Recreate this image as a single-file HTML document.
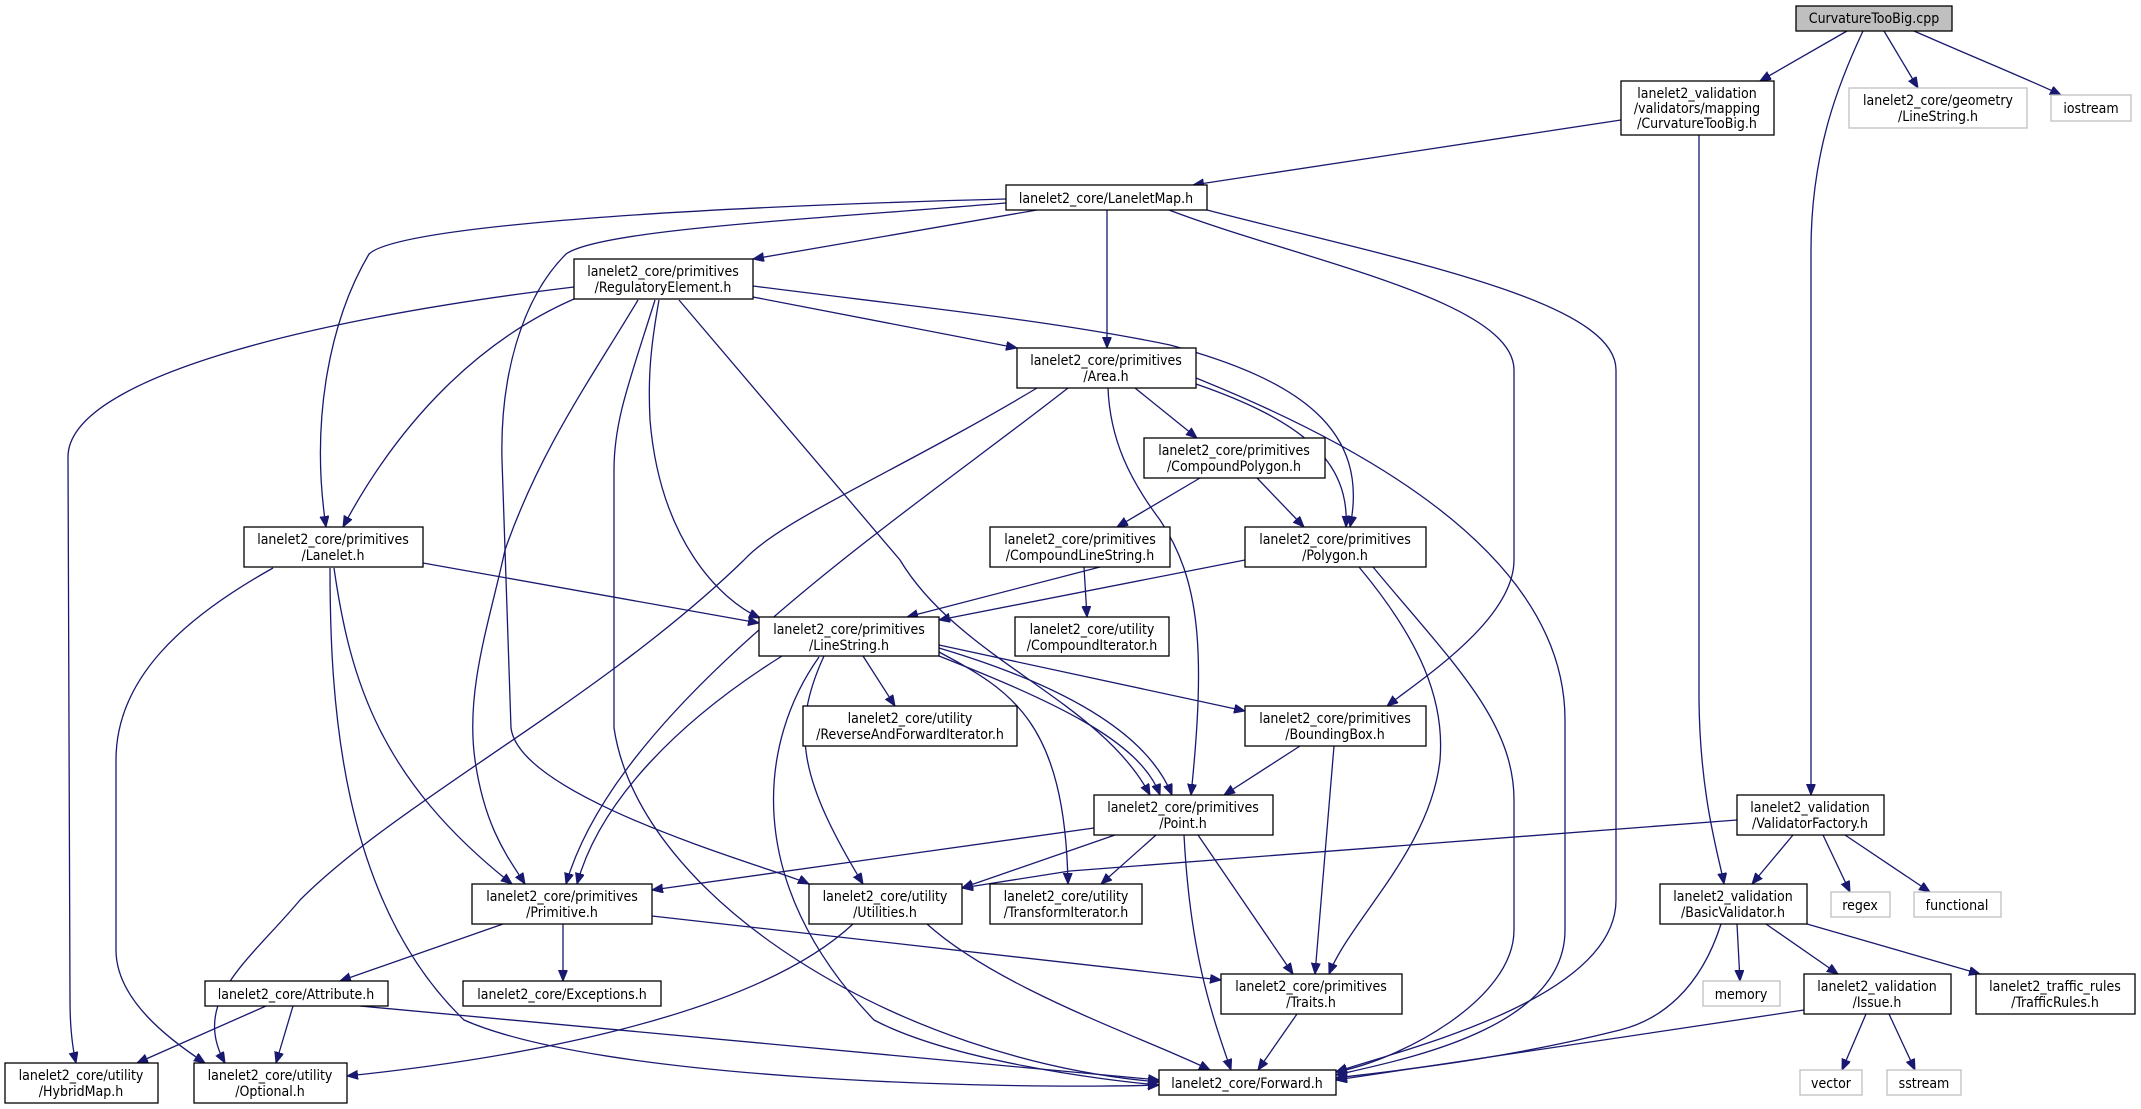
<!DOCTYPE html>
<html><head><meta charset="utf-8"><style>
html,body{margin:0;padding:0;background:#fff;}
svg{display:block;}
text{font-family:"DejaVu Sans Condensed","Liberation Sans Narrow","Liberation Sans",sans-serif;font-size:14px;fill:#000;text-anchor:middle;}
.e{fill:none;stroke:#191970;stroke-width:1.3;marker-end:url(#a);}
.n{fill:#fff;stroke:#000;stroke-width:1.3;}
.g{fill:#fff;stroke:#bfbfbf;stroke-width:1.3;}
</style></head><body>
<svg width="2141" height="1109" viewBox="0 0 2141 1109" xmlns="http://www.w3.org/2000/svg">
<defs><marker id="a" markerUnits="userSpaceOnUse" markerWidth="12" markerHeight="10" refX="11" refY="4.5" orient="auto"><path d="M0,0 L11,4.5 L0,9 z" fill="#191970" stroke="#191970"/></marker></defs>
<g>
<path class="e" d="M1847,31 L1760,81"/>
<path class="e" d="M1863,31 C1840,80 1811,150 1811,250 L1811,795"/>
<path class="e" d="M1884,31 L1918,88"/>
<path class="e" d="M1914,31 C1980,60 2030,80 2061,95"/>
<path class="e" d="M1621,120 L1193,185"/>
<path class="e" d="M1699,135 L1699,700 C1700,800 1720,860 1724,884"/>
<path class="e" d="M1006,199 C700,207 400,225 369,254 C330,320 310,420 326,527"/>
<path class="e" d="M1006,203 C800,220 600,230 566,254 C520,300 500,380 502,460 L511,728 C520,800 780,870 809,884"/>
<path class="e" d="M1037,210 L753,259"/>
<path class="e" d="M1107,210 L1107,348"/>
<path class="e" d="M1169,210 C1300,260 1514,300 1514,370 L1514,560 C1514,620 1420,680 1387,706"/>
<path class="e" d="M1207,210 C1400,260 1616,300 1616,370 L1616,900 C1616,1000 1400,1050 1336,1072"/>
<path class="e" d="M753,297 L1017,348"/>
<path class="e" d="M753,286 C900,305 1050,320 1170,345 C1300,380 1370,430 1350,527"/>
<path class="e" d="M574,287 C300,320 68,380 68,457 L70,1000 C70,1030 73,1050 76,1063"/>
<path class="e" d="M574,299 C480,340 400,420 343,527"/>
<path class="e" d="M638,300 C590,380 540,450 505,550 C490,620 465,690 475,760 C485,830 510,860 525,884"/>
<path class="e" d="M655,300 C630,380 614,420 614,470 L614,728 C640,900 900,1060 1159,1082"/>
<path class="e" d="M659,300 C650,350 648,380 650,420 C660,540 720,600 760,618"/>
<path class="e" d="M679,300 L900,560 C960,660 1100,700 1150,795"/>
<path class="e" d="M423,563 L759,623"/>
<path class="e" d="M1135,388 L1197,438"/>
<path class="e" d="M1196,384 C1300,420 1350,460 1346,527"/>
<path class="e" d="M1196,378 C1350,440 1565,550 1565,720 L1565,930 C1565,1030 1400,1060 1336,1075"/>
<path class="e" d="M1108,388 C1110,440 1130,480 1160,520 C1200,580 1206,650 1191,795"/>
<path class="e" d="M1068,388 C900,520 620,700 566,884"/>
<path class="e" d="M1037,388 C900,470 780,520 744,560 C600,700 400,800 300,900 C250,960 190,1000 225,1063"/>
<path class="e" d="M1200,478 L1117,527"/>
<path class="e" d="M1257,478 L1304,527"/>
<path class="e" d="M1100,567 L907,617"/>
<path class="e" d="M1084,567 L1087,617"/>
<path class="e" d="M1245,560 L939,620"/>
<path class="e" d="M1359,567 C1420,640 1445,700 1440,760 C1430,850 1350,920 1329,974"/>
<path class="e" d="M1373,567 C1450,660 1514,720 1514,800 L1514,930 C1514,1000 1400,1060 1336,1072"/>
<path class="e" d="M273,568 C180,620 116,680 116,760 L116,950 C116,1000 170,1040 205,1063"/>
<path class="e" d="M330,568 C330,700 340,900 464,1020 C600,1080 1000,1090 1159,1085"/>
<path class="e" d="M334,568 C350,680 380,780 512,884"/>
<path class="e" d="M863,656 L895,706"/>
<path class="e" d="M782,656 C680,720 600,800 577,884"/>
<path class="e" d="M824,656 C790,730 800,780 863,884"/>
<path class="e" d="M939,652 C1010,690 1065,720 1068,884"/>
<path class="e" d="M939,656 C1050,700 1140,740 1160,795"/>
<path class="e" d="M939,648 C1080,690 1150,740 1172,795"/>
<path class="e" d="M939,645 L1245,711"/>
<path class="e" d="M819,657 C760,740 740,880 874,1020 C950,1060 1100,1080 1159,1085"/>
<path class="e" d="M1094,828 L652,890"/>
<path class="e" d="M1115,835 L962,888"/>
<path class="e" d="M1156,835 L1101,884"/>
<path class="e" d="M1198,835 L1293,974"/>
<path class="e" d="M1184,835 C1190,950 1210,1010 1231,1070"/>
<path class="e" d="M1300,746 L1224,795"/>
<path class="e" d="M1334,746 L1315,974"/>
<path class="e" d="M1737,820 L1070,871 L962,888"/>
<path class="e" d="M1793,835 L1752,884"/>
<path class="e" d="M1823,835 L1850,892"/>
<path class="e" d="M1845,835 L1930,892"/>
<path class="e" d="M503,924 L340,981"/>
<path class="e" d="M563,924 L563,981"/>
<path class="e" d="M652,916 L1221,980"/>
<path class="e" d="M853,924 C750,1020 500,1060 347,1076"/>
<path class="e" d="M927,924 C1000,990 1150,1040 1210,1070"/>
<path class="e" d="M266,1006 L137,1063"/>
<path class="e" d="M293,1006 L276,1063"/>
<path class="e" d="M360,1006 L1159,1080"/>
<path class="e" d="M1297,1014 L1258,1070"/>
<path class="e" d="M1737,924 L1740,981"/>
<path class="e" d="M1766,924 L1838,974"/>
<path class="e" d="M1807,924 L1980,974"/>
<path class="e" d="M1721,924 C1700,990 1660,1020 1620,1030 C1500,1060 1400,1070 1336,1078"/>
<path class="e" d="M1804,1010 L1336,1080"/>
<path class="e" d="M1866,1014 L1842,1070"/>
<path class="e" d="M1889,1014 L1915,1070"/>
</g>
<g>
<rect x="1796" y="6" width="156" height="25" fill="#bfbfbf" stroke="#000" stroke-width="1.3"/><text x="1874" y="23">CurvatureTooBig.cpp</text>
<rect class="n" x="1621" y="81" width="153" height="54"/><text x="1697" y="98">lanelet2_validation</text><text x="1697" y="113">/validators/mapping</text><text x="1697" y="128">/CurvatureTooBig.h</text>
<rect class="g" x="1849" y="88" width="178" height="40"/><text x="1938" y="105">lanelet2_core/geometry</text><text x="1938" y="121">/LineString.h</text>
<rect class="g" x="2051" y="95" width="80" height="26"/><text x="2091" y="113">iostream</text>
<rect class="n" x="1006" y="185" width="201" height="25"/><text x="1106" y="203">lanelet2_core/LaneletMap.h</text>
<rect class="n" x="574" y="259" width="179" height="40"/><text x="663" y="276">lanelet2_core/primitives</text><text x="663" y="292">/RegulatoryElement.h</text>
<rect class="n" x="1017" y="348" width="179" height="40"/><text x="1106" y="365">lanelet2_core/primitives</text><text x="1106" y="381">/Area.h</text>
<rect class="n" x="1144" y="438" width="181" height="40"/><text x="1234" y="455">lanelet2_core/primitives</text><text x="1234" y="471">/CompoundPolygon.h</text>
<rect class="n" x="244" y="527" width="179" height="40"/><text x="333" y="544">lanelet2_core/primitives</text><text x="333" y="560">/Lanelet.h</text>
<rect class="n" x="990" y="527" width="180" height="40"/><text x="1080" y="544">lanelet2_core/primitives</text><text x="1080" y="560">/CompoundLineString.h</text>
<rect class="n" x="1245" y="527" width="181" height="40"/><text x="1335" y="544">lanelet2_core/primitives</text><text x="1335" y="560">/Polygon.h</text>
<rect class="n" x="759" y="617" width="180" height="39"/><text x="849" y="634">lanelet2_core/primitives</text><text x="849" y="650">/LineString.h</text>
<rect class="n" x="1015" y="617" width="154" height="39"/><text x="1092" y="634">lanelet2_core/utility</text><text x="1092" y="650">/CompoundIterator.h</text>
<rect class="n" x="803" y="706" width="214" height="40"/><text x="910" y="723">lanelet2_core/utility</text><text x="910" y="739">/ReverseAndForwardIterator.h</text>
<rect class="n" x="1245" y="706" width="181" height="40"/><text x="1335" y="723">lanelet2_core/primitives</text><text x="1335" y="739">/BoundingBox.h</text>
<rect class="n" x="1094" y="795" width="179" height="40"/><text x="1183" y="812">lanelet2_core/primitives</text><text x="1183" y="828">/Point.h</text>
<rect class="n" x="1737" y="795" width="147" height="40"/><text x="1810" y="812">lanelet2_validation</text><text x="1810" y="828">/ValidatorFactory.h</text>
<rect class="n" x="472" y="884" width="180" height="40"/><text x="562" y="901">lanelet2_core/primitives</text><text x="562" y="917">/Primitive.h</text>
<rect class="n" x="809" y="884" width="153" height="40"/><text x="885" y="901">lanelet2_core/utility</text><text x="885" y="917">/Utilities.h</text>
<rect class="n" x="990" y="884" width="152" height="40"/><text x="1066" y="901">lanelet2_core/utility</text><text x="1066" y="917">/TransformIterator.h</text>
<rect class="n" x="1660" y="884" width="147" height="40"/><text x="1733" y="901">lanelet2_validation</text><text x="1733" y="917">/BasicValidator.h</text>
<rect class="g" x="1831" y="892" width="59" height="25"/><text x="1860" y="910">regex</text>
<rect class="g" x="1914" y="892" width="87" height="25"/><text x="1957" y="910">functional</text>
<rect class="n" x="205" y="981" width="183" height="25"/><text x="296" y="999">lanelet2_core/Attribute.h</text>
<rect class="n" x="463" y="981" width="198" height="25"/><text x="562" y="999">lanelet2_core/Exceptions.h</text>
<rect class="n" x="1221" y="974" width="181" height="40"/><text x="1311" y="991">lanelet2_core/primitives</text><text x="1311" y="1007">/Traits.h</text>
<rect class="g" x="1703" y="981" width="77" height="25"/><text x="1741" y="999">memory</text>
<rect class="n" x="1804" y="974" width="147" height="40"/><text x="1877" y="991">lanelet2_validation</text><text x="1877" y="1007">/Issue.h</text>
<rect class="n" x="1976" y="974" width="159" height="40"/><text x="2055" y="991">lanelet2_traffic_rules</text><text x="2055" y="1007">/TrafficRules.h</text>
<rect class="n" x="5" y="1063" width="153" height="40"/><text x="81" y="1080">lanelet2_core/utility</text><text x="81" y="1096">/HybridMap.h</text>
<rect class="n" x="194" y="1063" width="153" height="40"/><text x="270" y="1080">lanelet2_core/utility</text><text x="270" y="1096">/Optional.h</text>
<rect class="n" x="1159" y="1070" width="177" height="25"/><text x="1247" y="1088">lanelet2_core/Forward.h</text>
<rect class="g" x="1800" y="1070" width="62" height="25"/><text x="1831" y="1088">vector</text>
<rect class="g" x="1887" y="1070" width="74" height="25"/><text x="1924" y="1088">sstream</text>
</g>
</svg>
</body></html>
